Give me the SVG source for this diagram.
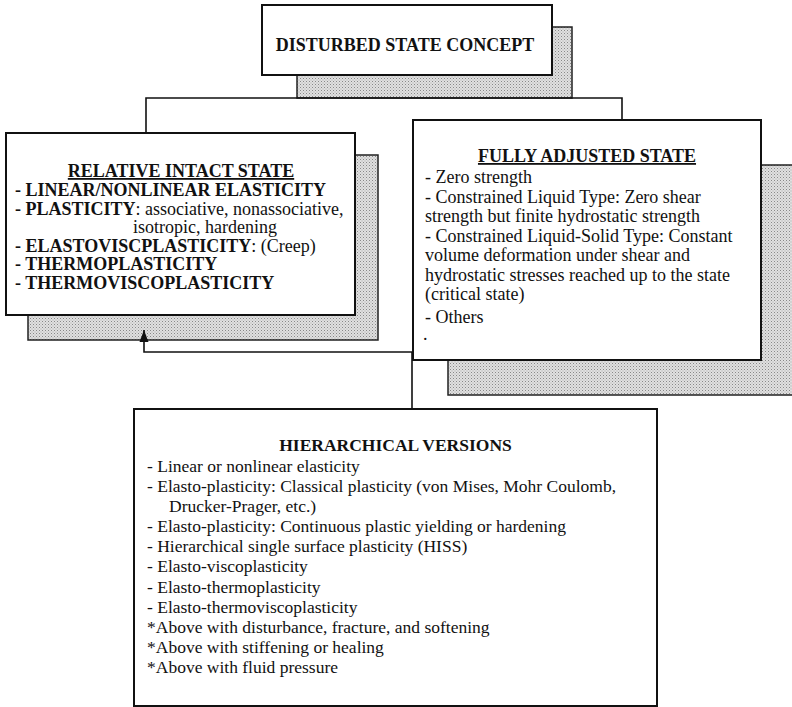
<svg xmlns="http://www.w3.org/2000/svg" width="792" height="707" viewBox="0 0 792 707">
  <defs>
    <!-- fine stipple used for the drop shadows -->
    <pattern id="stipple" width="3" height="3" patternUnits="userSpaceOnUse">
      <rect width="3" height="3" fill="#e0e0e0"/>
      <rect x="0" y="0" width="1" height="1" fill="#888"/>
      <rect x="1.5" y="1.5" width="1" height="1" fill="#aaa"/>
    </pattern>
    <!-- solid arrowhead, tip on the end of the path -->
    <marker id="arrow" viewBox="0 0 12 10" refX="12" refY="5" markerWidth="12" markerHeight="10" markerUnits="userSpaceOnUse" orient="auto">
      <path d="M0,0.5 L12,5 L0,9.5 Z" fill="#111"/>
    </marker>
    <style>
      .shadow { fill: url(#stipple); stroke: #222; stroke-width: 1.5; }
      .box { fill: #fff; stroke: #111; stroke-width: 2; }
      .conn { fill: none; stroke: #111; stroke-width: 1.6; }
      text { font-family: "Liberation Serif", "Times New Roman", serif; fill: #111; }
      .t18 { font-size: 18px; }
      .t17 { font-size: 17.5px; }
      .b { font-weight: bold; }
      .head { font-weight: bold; text-anchor: middle; }
      .u { text-decoration: underline; }
    </style>
  </defs>

  <!-- shadows sit under every box -->
  <g id="shadows">
    <rect class="shadow" x="297" y="27" width="275" height="71"/>
    <rect class="shadow" x="28" y="155" width="350" height="185"/>
    <rect class="shadow" x="448" y="165" width="360" height="230"/>
  </g>

  <!-- connectors -->
  <g id="connectors">
    <path class="conn" d="M146,133 V98 H622 V120"/>
    <path class="conn" d="M412,408 V352 H144 V330" marker-end="url(#arrow)"/>
  </g>

  <g id="dsc">
    <rect class="box" x="262" y="5" width="290" height="70"/>
    <text class="t18 head" x="405" y="51">DISTURBED STATE CONCEPT</text>
  </g>

  <g id="ri">
    <rect class="box" x="6" y="133" width="349" height="182"/>
    <text class="t18 head u" x="181" y="177">RELATIVE INTACT STATE</text>
    <text class="t18 b" x="15" y="196">- LINEAR/NONLINEAR ELASTICITY</text>
    <text class="t18" x="15" y="215"><tspan class="b">- PLASTICITY</tspan>: associative, nonassociative,</text>
    <text class="t18" x="133" y="233">isotropic, hardening</text>
    <text class="t18" x="15" y="252"><tspan class="b">- ELASTOVISCPLASTICITY</tspan>: (Creep)</text>
    <text class="t18 b" x="15" y="270">- THERMOPLASTICITY</text>
    <text class="t18 b" x="15" y="289">- THERMOVISCOPLASTICITY</text>
  </g>

  <g id="fa">
    <rect class="box" x="413" y="120" width="348" height="240"/>
    <text class="t18 head u" x="587" y="162">FULLY ADJUSTED STATE</text>
    <text class="t18" x="425" y="183">- Zero strength</text>
    <text class="t18" x="425" y="203">- Constrained Liquid Type: Zero shear</text>
    <text class="t18" x="425" y="222">strength but finite hydrostatic strength</text>
    <text class="t18" x="425" y="242">- Constrained Liquid-Solid Type: Constant</text>
    <text class="t18" x="425" y="261">volume deformation under shear and</text>
    <text class="t18" x="425" y="281">hydrostatic stresses reached up to the state</text>
    <text class="t18" x="425" y="300">(critical state)</text>
    <text class="t18" x="425" y="323">- Others</text>
    <text class="t18" x="423" y="340">.</text>
  </g>

  <g id="hv">
    <rect class="box" x="134" y="409" width="523" height="297"/>
    <text class="t17 head" x="395.5" y="451">HIERARCHICAL VERSIONS</text>
    <text class="t17" x="147" y="472">- Linear or nonlinear elasticity</text>
    <text class="t17" x="147" y="492">- Elasto-plasticity: Classical plasticity (von Mises, Mohr Coulomb,</text>
    <text class="t17" x="169" y="512">Drucker-Prager, etc.)</text>
    <text class="t17" x="147" y="532">- Elasto-plasticity: Continuous plastic yielding or hardening</text>
    <text class="t17" x="147" y="552">- Hierarchical single surface plasticity (HISS)</text>
    <text class="t17" x="147" y="572">- Elasto-viscoplasticity</text>
    <text class="t17" x="147" y="593">- Elasto-thermoplasticity</text>
    <text class="t17" x="147" y="613">- Elasto-thermoviscoplasticity</text>
    <text class="t17" x="147" y="633">*Above with disturbance, fracture, and softening</text>
    <text class="t17" x="147" y="653">*Above with stiffening or healing</text>
    <text class="t17" x="147" y="673">*Above with fluid pressure</text>
  </g>
</svg>
